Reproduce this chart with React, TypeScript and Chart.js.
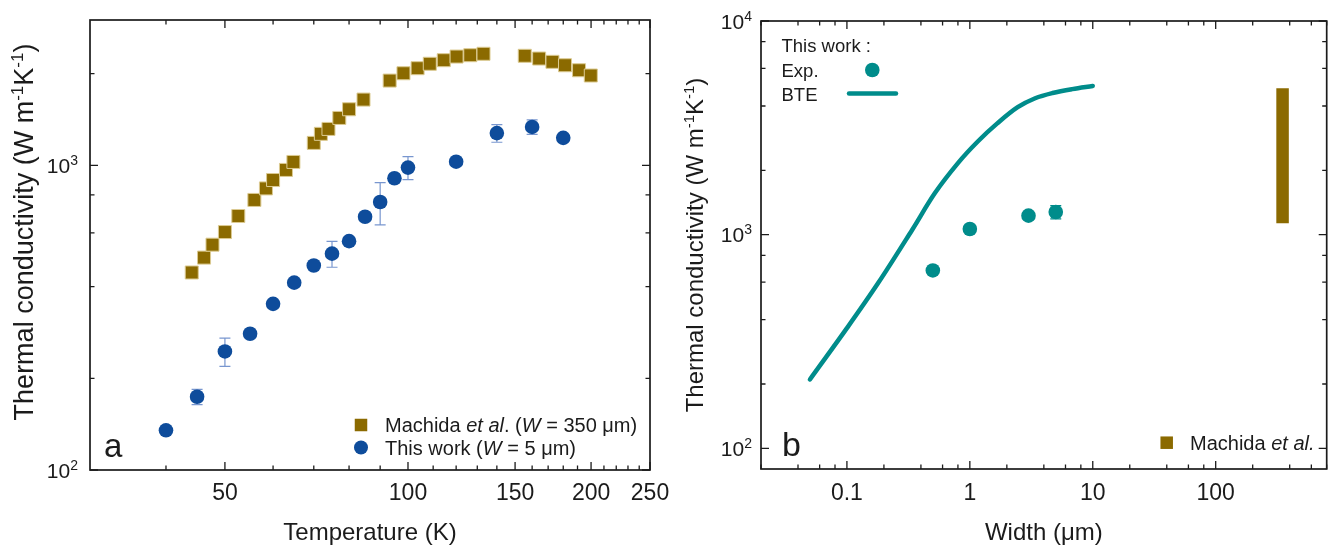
import React, { useEffect, useRef } from 'react';
import { Chart, registerables } from 'chart.js';
Chart.register(...registerables);

const FONT = '"Liberation Sans", Arial, Helvetica, sans-serif';
const INK = '#1b1b1b';
const BROWN = '#8B6A00';
const BROWN_EDGE = '#dccb92';
const BLUE = '#0E4C9B';
const BLUE_ERR = '#7896cf';
const TEAL = '#008C8B';

// ---------- Panel a: kappa vs temperature ----------
const machidaTemp = [44.1, 46.2, 47.7, 50.0, 52.6, 55.9, 58.4, 60.0, 63.0, 64.8, 70.0, 71.9, 74.0, 77.1, 80.0, 84.5, 93.3, 98.3, 103.7, 108.6, 114.5, 120.2, 126.6, 133.1, 155.6, 164.3, 172.8, 181.2, 191.1, 199.8];
const machidaKappa = [445, 498, 549, 604, 682, 770, 840, 895, 966, 1026, 1185, 1269, 1317, 1431, 1528, 1644, 1898, 2006, 2084, 2155, 2214, 2276, 2299, 2324, 2289, 2242, 2187, 2131, 2052, 1972];
const workTemp = [40, 45, 50, 55, 60, 65, 70, 75, 80, 85, 90, 95, 100, 120, 140, 160, 180];
const workKappa = [135, 174, 245, 280, 351, 412, 469, 513, 564, 678, 758, 907, 983, 1028, 1276, 1337, 1231];
const workErr = [0, 10, 26, 0, 8, 0, 0, 50, 0, 0, 120, 0, 85, 12, 85, 73, 0];
const tempTicks = [40, 50, 60, 70, 80, 90, 100, 110, 120, 130, 140, 150, 160, 170, 180, 190, 200, 210, 220, 230, 240, 250];
const tempMajor = [50, 100, 150, 200, 250];
const tempLabels = ['50', '100', '150', '200', '250'];
const kappaTicksA = [100, 200, 400, 600, 800, 1000, 2000];
const kappaMajorA = [100, 1000];

// ---------- Panel b: kappa vs width ----------
const expWidth = [0.5, 1, 3, 5];
const expKappa = [680, 1063, 1227, 1276];
const expErr = [0, 0, 0, 90];
const bteWidth = [0.05, 0.1, 0.18, 0.34, 0.52, 0.8, 1.16, 1.68, 2.45, 3.4, 4.7, 6.8, 10];
const bteKappa = [210, 365, 595, 1055, 1566, 2163, 2729, 3326, 3950, 4350, 4600, 4800, 4966];
const machidaWidth = [350, 350];
const machidaRange = [1130, 4850];
const widthTicks = [0.02, 0.04, 0.06, 0.08, 0.1, 0.2, 0.4, 0.6, 0.8, 1, 2, 4, 6, 8, 10, 20, 40, 60, 80, 100, 200, 400, 600, 800];
const widthMajor = [0.1, 1, 10, 100];
const widthLabels = ['0.1', '1', '10', '100'];
const kappaTicksB = [100, 200, 400, 600, 800, 1000, 2000, 4000, 6000, 8000, 10000];
const kappaMajorB = [100, 1000, 10000];

type Part = { t: string; f: string; dy?: number };

function drawRich(ctx: CanvasRenderingContext2D, parts: Part[], x: number, y: number, align: 'left' | 'center' | 'right') {
  let total = 0;
  for (const p of parts) { ctx.font = p.f; total += ctx.measureText(p.t).width; }
  let cx = align === 'left' ? x : align === 'center' ? x - total / 2 : x - total;
  ctx.textAlign = 'left';
  ctx.textBaseline = 'alphabetic';
  for (const p of parts) {
    ctx.font = p.f;
    ctx.fillText(p.t, cx, y + (p.dy || 0));
    cx += ctx.measureText(p.t).width;
  }
}

const n = (s: number) => `${s}px ${FONT}`;
const it = (s: number) => `italic ${s}px ${FONT}`;

function yTitleParts(size: number): Part[] {
  const sup = Math.round(size * 0.62);
  const dy = -size * 0.38;
  return [
    { t: 'Thermal conductivity (W m', f: n(size) },
    { t: '-1', f: n(sup), dy },
    { t: 'K', f: n(size) },
    { t: '-1', f: n(sup), dy },
    { t: ')', f: n(size) },
  ];
}

function makeDecor(spec: any) {
  return {
    id: 'decor',
    beforeDatasetsDraw(chart: any) {
      const ctx: CanvasRenderingContext2D = chart.ctx;
      const xs = chart.scales.x, ys = chart.scales.y;
      ctx.save();
      for (const eb of spec.errors) {
        ctx.strokeStyle = eb.color;
        ctx.lineWidth = 1.2;
        ctx.beginPath();
        eb.x.forEach((xv: number, i: number) => {
          const e = eb.e[i];
          if (!e) return;
          const px = xs.getPixelForValue(xv);
          const t = ys.getPixelForValue(eb.y[i] + e);
          const b = ys.getPixelForValue(eb.y[i] - e);
          ctx.moveTo(px, t); ctx.lineTo(px, b);
          ctx.moveTo(px - 5.5, t); ctx.lineTo(px + 5.5, t);
          ctx.moveTo(px - 5.5, b); ctx.lineTo(px + 5.5, b);
        });
        ctx.stroke();
      }
      ctx.restore();
    },
    afterDatasetsDraw(chart: any) {
      const ctx: CanvasRenderingContext2D = chart.ctx;
      const a = chart.chartArea;
      const xs = chart.scales.x, ys = chart.scales.y;
      ctx.save();
      ctx.strokeStyle = INK;
      ctx.lineWidth = 1.7;
      ctx.strokeRect(a.left, a.top, a.right - a.left, a.bottom - a.top);
      ctx.lineWidth = 1.3;
      ctx.beginPath();
      for (const t of xs.ticks) {
        const p = xs.getPixelForValue(t.value);
        const L = spec.xMajor.includes(t.value) ? 8 : 4.5;
        ctx.moveTo(p, a.bottom); ctx.lineTo(p, a.bottom - L);
        ctx.moveTo(p, a.top); ctx.lineTo(p, a.top + L);
      }
      for (const t of ys.ticks) {
        const p = ys.getPixelForValue(t.value);
        const L = spec.yMajor.includes(t.value) ? 8 : 4.5;
        ctx.moveTo(a.left, p); ctx.lineTo(a.left + L, p);
        ctx.moveTo(a.right, p); ctx.lineTo(a.right - L, p);
      }
      ctx.stroke();

      ctx.fillStyle = INK;
      spec.xMajor.forEach((v: number, i: number) => {
        const lab = spec.xLabels[i];
        if (!lab) return;
        const p = xs.getPixelForValue(v);
        drawRich(ctx, [{ t: lab, f: n(23) }], p, 500, 'center');
      });
      for (const v of spec.yMajor) {
        const p = ys.getPixelForValue(v);
        const ex = String(Math.round(Math.log10(v)));
        drawRich(ctx, [{ t: '10', f: n(21) }, { t: ex, f: n(14), dy: -8 }], a.left - spec.yLabelGap, p + 7.5, 'right');
      }
      drawRich(ctx, [{ t: spec.xTitle, f: n(24) }], (a.left + a.right) / 2, 540, 'center');
      ctx.save();
      ctx.translate(a.left - spec.yTitleOffset, spec.yTitleCenter);
      ctx.rotate(-Math.PI / 2);
      drawRich(ctx, yTitleParts(spec.yTitleSize), 0, 0, 'center');
      ctx.restore();
      drawRich(ctx, [{ t: spec.letter, f: n(spec.letterSize) }], spec.letterX, spec.letterY, 'left');
      spec.legend(ctx);
      ctx.restore();
    },
  };
}

function square(ctx: CanvasRenderingContext2D, x: number, y: number, s: number) {
  ctx.fillStyle = BROWN;
  ctx.fillRect(x - s / 2, y - s / 2, s, s);
}
function dot(ctx: CanvasRenderingContext2D, x: number, y: number, r: number, c: string) {
  ctx.fillStyle = c;
  ctx.beginPath();
  ctx.arc(x, y, r, 0, Math.PI * 2);
  ctx.fill();
}

function legendA(ctx: CanvasRenderingContext2D) {
  square(ctx, 361, 425, 12.5);
  dot(ctx, 361, 447.5, 7, BLUE);
  ctx.fillStyle = INK;
  drawRich(ctx, [
    { t: 'Machida ', f: n(20) }, { t: 'et al', f: it(20) }, { t: '. (', f: n(20) },
    { t: 'W', f: it(20) }, { t: ' = 350 \u03bcm)', f: n(20) },
  ], 385, 432, 'left');
  drawRich(ctx, [
    { t: 'This work (', f: n(20) }, { t: 'W', f: it(20) }, { t: ' = 5 \u03bcm)', f: n(20) },
  ], 385, 455, 'left');
}

function legendB(ctx: CanvasRenderingContext2D) {
  ctx.fillStyle = INK;
  drawRich(ctx, [{ t: 'This work :', f: n(18.5) }], 781.5, 51.5, 'left');
  drawRich(ctx, [{ t: 'Exp.', f: n(18.5) }], 781.5, 76.5, 'left');
  drawRich(ctx, [{ t: 'BTE', f: n(18.5) }], 781.5, 100.5, 'left');
  dot(ctx, 872.3, 70, 7.3, TEAL);
  ctx.strokeStyle = TEAL;
  ctx.lineWidth = 4.5;
  ctx.lineCap = 'round';
  ctx.beginPath();
  ctx.moveTo(849, 93.5); ctx.lineTo(896, 93.5);
  ctx.stroke();
  square(ctx, 1166.7, 442.7, 12.5);
  ctx.fillStyle = INK;
  drawRich(ctx, [{ t: 'Machida ', f: n(20) }, { t: 'et al.', f: it(20) }], 1190, 450, 'left');
}

function logAxis(min: number, max: number, ticks: number[], fit: (s: any) => void) {
  return {
    type: 'logarithmic',
    min, max,
    grid: { display: false },
    border: { display: false },
    ticks: { display: false },
    afterBuildTicks: (s: any) => { s.ticks = ticks.map((v) => ({ value: v })); },
    afterFit: fit,
  };
}

function configA(): any {
  return {
    type: 'scatter',
    data: {
      datasets: [
        {
          label: 'Machida et al. (W = 350 μm)',
          data: machidaTemp.map((t, i) => ({ x: t, y: machidaKappa[i] })),
          pointStyle: 'rect', pointRadius: 9.2, pointHoverRadius: 9.2,
          backgroundColor: BROWN, borderColor: BROWN_EDGE, borderWidth: 1,
        },
        {
          label: 'This work (W = 5 μm)',
          data: workTemp.map((t, i) => ({ x: t, y: workKappa[i] })),
          pointStyle: 'circle', pointRadius: 7.3, pointHoverRadius: 7.3,
          backgroundColor: BLUE, borderColor: BLUE, borderWidth: 0,
        },
      ],
    },
    options: {
      animation: false, responsive: false, maintainAspectRatio: false,
      events: [],
      layout: { padding: { top: 20, right: 1334 - 650, left: 0, bottom: 0 } },
      plugins: { legend: { display: false }, tooltip: { enabled: false } },
      scales: {
        x: logAxis(30, 250, tempTicks, (s: any) => { s.height = 78; }),
        y: logAxis(100, 3000, kappaTicksA, (s: any) => { s.width = 90; }),
      },
    },
    plugins: [makeDecor({
      xMajor: tempMajor, xLabels: tempLabels, yMajor: kappaMajorA, yLabelGap: 12,
      xTitle: 'Temperature (K)', yTitleCenter: 232, yTitleSize: 27, yTitleOffset: 57,
      letter: 'a', letterSize: 33, letterX: 104, letterY: 457,
      legend: legendA,
      errors: [{ x: workTemp, y: workKappa, e: workErr, color: BLUE_ERR }],
    })],
  };
}

function configB(): any {
  return {
    type: 'scatter',
    data: {
      datasets: [
        {
          label: 'BTE',
          data: bteWidth.map((w, i) => ({ x: w, y: bteKappa[i] })),
          showLine: true, pointRadius: 0, borderColor: TEAL, borderWidth: 4.5,
          tension: 0.35, borderCapStyle: 'round', borderJoinStyle: 'round',
        },
        {
          label: 'Machida et al.',
          data: machidaWidth.map((w, i) => ({ x: w, y: machidaRange[i] })),
          showLine: true, pointRadius: 0, borderColor: BROWN, borderWidth: 12.5, borderCapStyle: 'butt',
        },
        {
          label: 'Exp.',
          data: expWidth.map((w, i) => ({ x: w, y: expKappa[i] })),
          pointStyle: 'circle', pointRadius: 7.3, pointHoverRadius: 7.3,
          backgroundColor: TEAL, borderColor: TEAL, borderWidth: 0,
        },
      ],
    },
    options: {
      animation: false, responsive: false, maintainAspectRatio: false,
      events: [],
      layout: { padding: { top: 21, right: 3, left: 0, bottom: 0 } },
      plugins: { legend: { display: false }, tooltip: { enabled: false } },
      scales: {
        x: logAxis(0.02, 800, widthTicks, (s: any) => { s.height = 79; }),
        y: logAxis(80, 10000, kappaTicksB, (s: any) => { s.width = 761; }),
      },
    },
    plugins: [makeDecor({
      xMajor: widthMajor, xLabels: widthLabels, yMajor: kappaMajorB, yLabelGap: 9,
      xTitle: 'Width (\u03bcm)', yTitleCenter: 245, yTitleSize: 24, yTitleOffset: 58,
      letter: 'b', letterSize: 34, letterX: 782, letterY: 456,
      legend: legendB,
      errors: [{ x: expWidth, y: expKappa, e: expErr, color: TEAL }],
    })],
  };
}

function ChartCanvas({ make }: { make: () => any }) {
  const ref = useRef<HTMLCanvasElement>(null);
  useEffect(() => {
    const chart = new Chart(ref.current as HTMLCanvasElement, make());
    return () => chart.destroy();
  }, []);
  return (
    <canvas
      ref={ref}
      width={1334}
      height={548}
      style={{ position: 'absolute', left: 0, top: 0, width: 1334, height: 548 }}
    />
  );
}

export default function App() {
  return (
    <div style={{ position: 'fixed', left: 0, top: 0, width: 1334, height: 548, background: '#ffffff' }}>
      <ChartCanvas make={configA} />
      <ChartCanvas make={configB} />
    </div>
  );
}
